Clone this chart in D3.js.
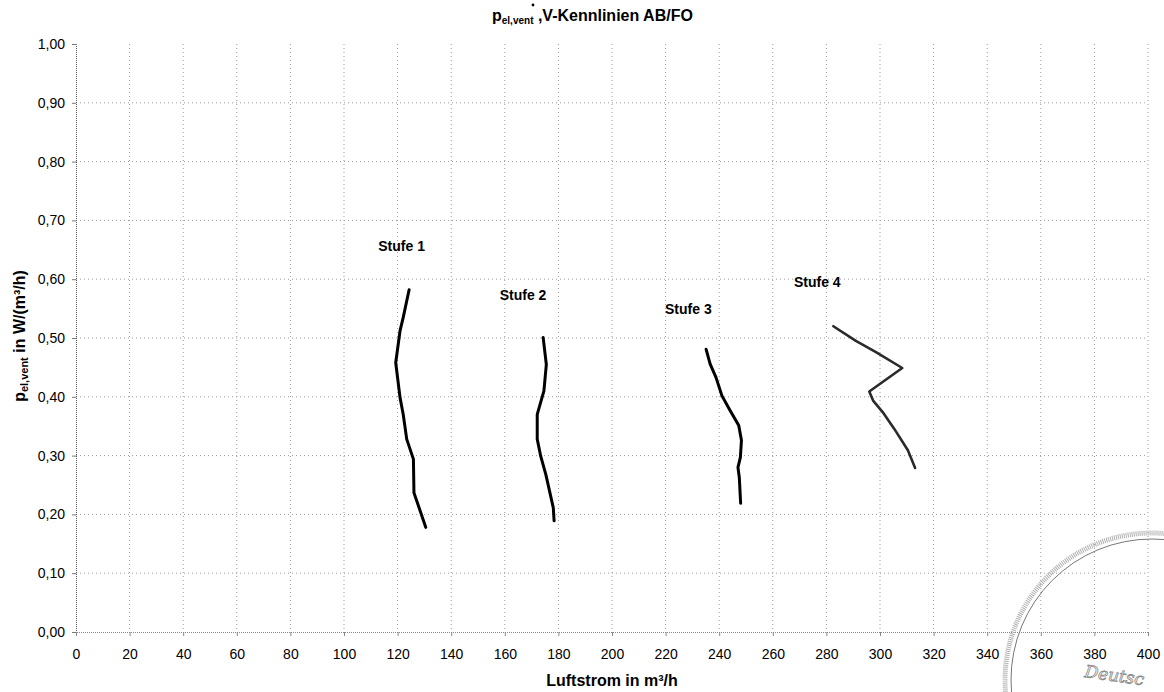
<!DOCTYPE html>
<html lang="de">
<head>
<meta charset="utf-8">
<title>p-V Kennlinien AB/FO</title>
<script src="https://cdn.jsdelivr.net/npm/d3@7"></script>
<style>
  body { margin: 0; background: #fff; }
  svg { display: block; font-family: Arial, "Liberation Sans", sans-serif; }
  .grid line { stroke: #9a9a9a; stroke-width: 1; stroke-dasharray: 1,3; }
  .tick text { font-size: 14px; fill: #000; }
  .lbl { font-weight: bold; fill: #000; }
</style>
</head>
<body>
<script>
// tick values
var xTicks = d3.range(0, 401, 20);
var yTicks = [0, 0.1, 0.2, 0.3, 0.4, 0.5, 0.6, 0.7, 0.8, 0.9, 1.0];

// curves, [Luftstrom m3/h, p W/(m3/h)]
var stufe1 = [[124.3,0.582],[122.1,0.535],[120.9,0.512],[119.3,0.458],[120.9,0.399],[122.1,0.370],[123.4,0.328],[125.9,0.294],[126.1,0.237],[130.5,0.178]];
var stufe2 = [[174.3,0.501],[175.5,0.455],[174.6,0.410],[172.1,0.370],[172.1,0.328],[173.4,0.299],[175.3,0.268],[178.1,0.211],[178.4,0.189]];
var stufe3 = [[235.1,0.481],[236.6,0.456],[238.8,0.433],[241.0,0.402],[243.8,0.379],[247.3,0.351],[248.3,0.326],[247.9,0.297],[247.0,0.280],[247.5,0.263],[248.0,0.219]];
var stufe4 = [[282.6,0.520],[291.0,0.495],[298.5,0.476],[308.3,0.449],[296.0,0.409],[297.5,0.393],[301.0,0.374],[305.4,0.345],[310.4,0.309],[313.1,0.279]];

var stufeNames = ["Stufe 1", "Stufe 2", "Stufe 3", "Stufe 4"];
var labelPos = [[121.5,0.657],[166.8,0.573],[228.5,0.550],[276.6,0.596]];

var width = 1164, height = 692;
var margin = {top: 44, right: 16, bottom: 60, left: 76};

var svg = d3.select("body").append("svg")
  .attr("width", width)
  .attr("height", height);

var x = d3.scaleLinear().domain([0, 400]).range([margin.left, width - margin.right]);
var y = d3.scaleLinear().domain([0, 1]).range([height - margin.bottom, margin.top]);

// gridlines
var grid = svg.append("g").attr("class", "grid");
grid.selectAll(".v").data(xTicks.slice(1)).enter().append("line")
  .attr("x1", function(d) { return x(d); }).attr("x2", function(d) { return x(d); })
  .attr("y1", y(1)).attr("y2", y(0));
grid.selectAll(".h").data(yTicks.slice(1, -1)).enter().append("line")
  .attr("x1", x(0)).attr("x2", x(400))
  .attr("y1", function(d) { return y(d); }).attr("y2", function(d) { return y(d); });

// axes
var fmt = function(d) { return d3.format(".2f")(d).replace(".", ","); };
var yAxis = svg.append("g")
  .attr("transform", "translate(" + x(0) + ",0)")
  .call(d3.axisLeft(y).tickValues(yTicks).tickFormat(fmt).tickSize(4).tickPadding(7));
yAxis.select(".domain").attr("stroke", "#555").attr("stroke-dasharray", "1,1");
yAxis.selectAll(".tick line").attr("stroke", "#777");

var xAxis = svg.append("g")
  .attr("transform", "translate(0," + y(0) + ")")
  .call(d3.axisBottom(x).tickValues(xTicks).tickSize(4).tickPadding(13));
xAxis.select(".domain").attr("stroke", "#888").attr("stroke-dasharray", "1,1");
xAxis.selectAll(".tick line").attr("stroke", "#888");

// curves
var line = d3.line()
  .x(function(d) { return x(d[0]); })
  .y(function(d) { return y(d[1]); });

[stufe1, stufe2, stufe3, stufe4].forEach(function(s, i) {
  svg.append("path")
    .datum(s)
    .attr("d", line)
    .attr("fill", "none")
    .attr("stroke", i == 3 ? "#2a2a2a" : "#000")
    .attr("stroke-width", i == 3 ? 2.6 : 3)
    .attr("stroke-linejoin", "round")
    .attr("stroke-linecap", "round");
});

svg.selectAll(".stufe").data(stufeNames).enter().append("text")
  .attr("class", "lbl")
  .attr("x", function(d, i) { return x(labelPos[i][0]); })
  .attr("y", function(d, i) { return y(labelPos[i][1]) + 5; })
  .attr("text-anchor", "middle")
  .style("font-size", "14px")
  .text(function(d) { return d; });

// title, with the dot of V-dot drawn as a small circle
var title = svg.append("text").attr("class", "lbl")
  .attr("x", 492).attr("y", 21).style("font-size", "16px");
title.append("tspan").text("p");
title.append("tspan").attr("dy", 3).style("font-size", "10px").text("el,vent");
title.append("tspan").attr("dy", -3).text(" ,V-Kennlinien AB/FO");
svg.append("circle").attr("cx", 533).attr("cy", 5).attr("r", 1.4).attr("fill", "#000");

// axis titles
svg.append("text").attr("class", "lbl")
  .attr("x", x(200)).attr("y", 686)
  .attr("text-anchor", "middle").style("font-size", "16px")
  .text("Luftstrom in m³/h");

var yl = svg.append("text").attr("class", "lbl")
  .attr("transform", "translate(25,336) rotate(-90)")
  .attr("text-anchor", "middle").style("font-size", "16px");
yl.append("tspan").text("p");
yl.append("tspan").attr("dy", 3).style("font-size", "11px").text("el,vent");
yl.append("tspan").attr("dy", -3).text(" in W/(m³/h)");

// stamp in the corner of the scan
var stamp = svg.append("g").attr("fill", "none");
stamp.append("circle").attr("cx", 1152).attr("cy", 680).attr("r", 147)
  .attr("stroke", "#b0b0b0").attr("stroke-width", 5).attr("stroke-dasharray", "1,1");
stamp.append("circle").attr("cx", 1152).attr("cy", 680).attr("r", 141)
  .attr("stroke", "#777").attr("stroke-width", 1);
svg.append("text")
  .attr("transform", "translate(1084,677) rotate(8)")
  .style("font-family", "'DejaVu Serif', serif").style("font-style", "italic")
  .style("font-size", "17px").attr("fill", "#fff").attr("stroke", "#888").attr("stroke-width", 0.8)
  .text("Deutsc");
</script>
</body>
</html>
